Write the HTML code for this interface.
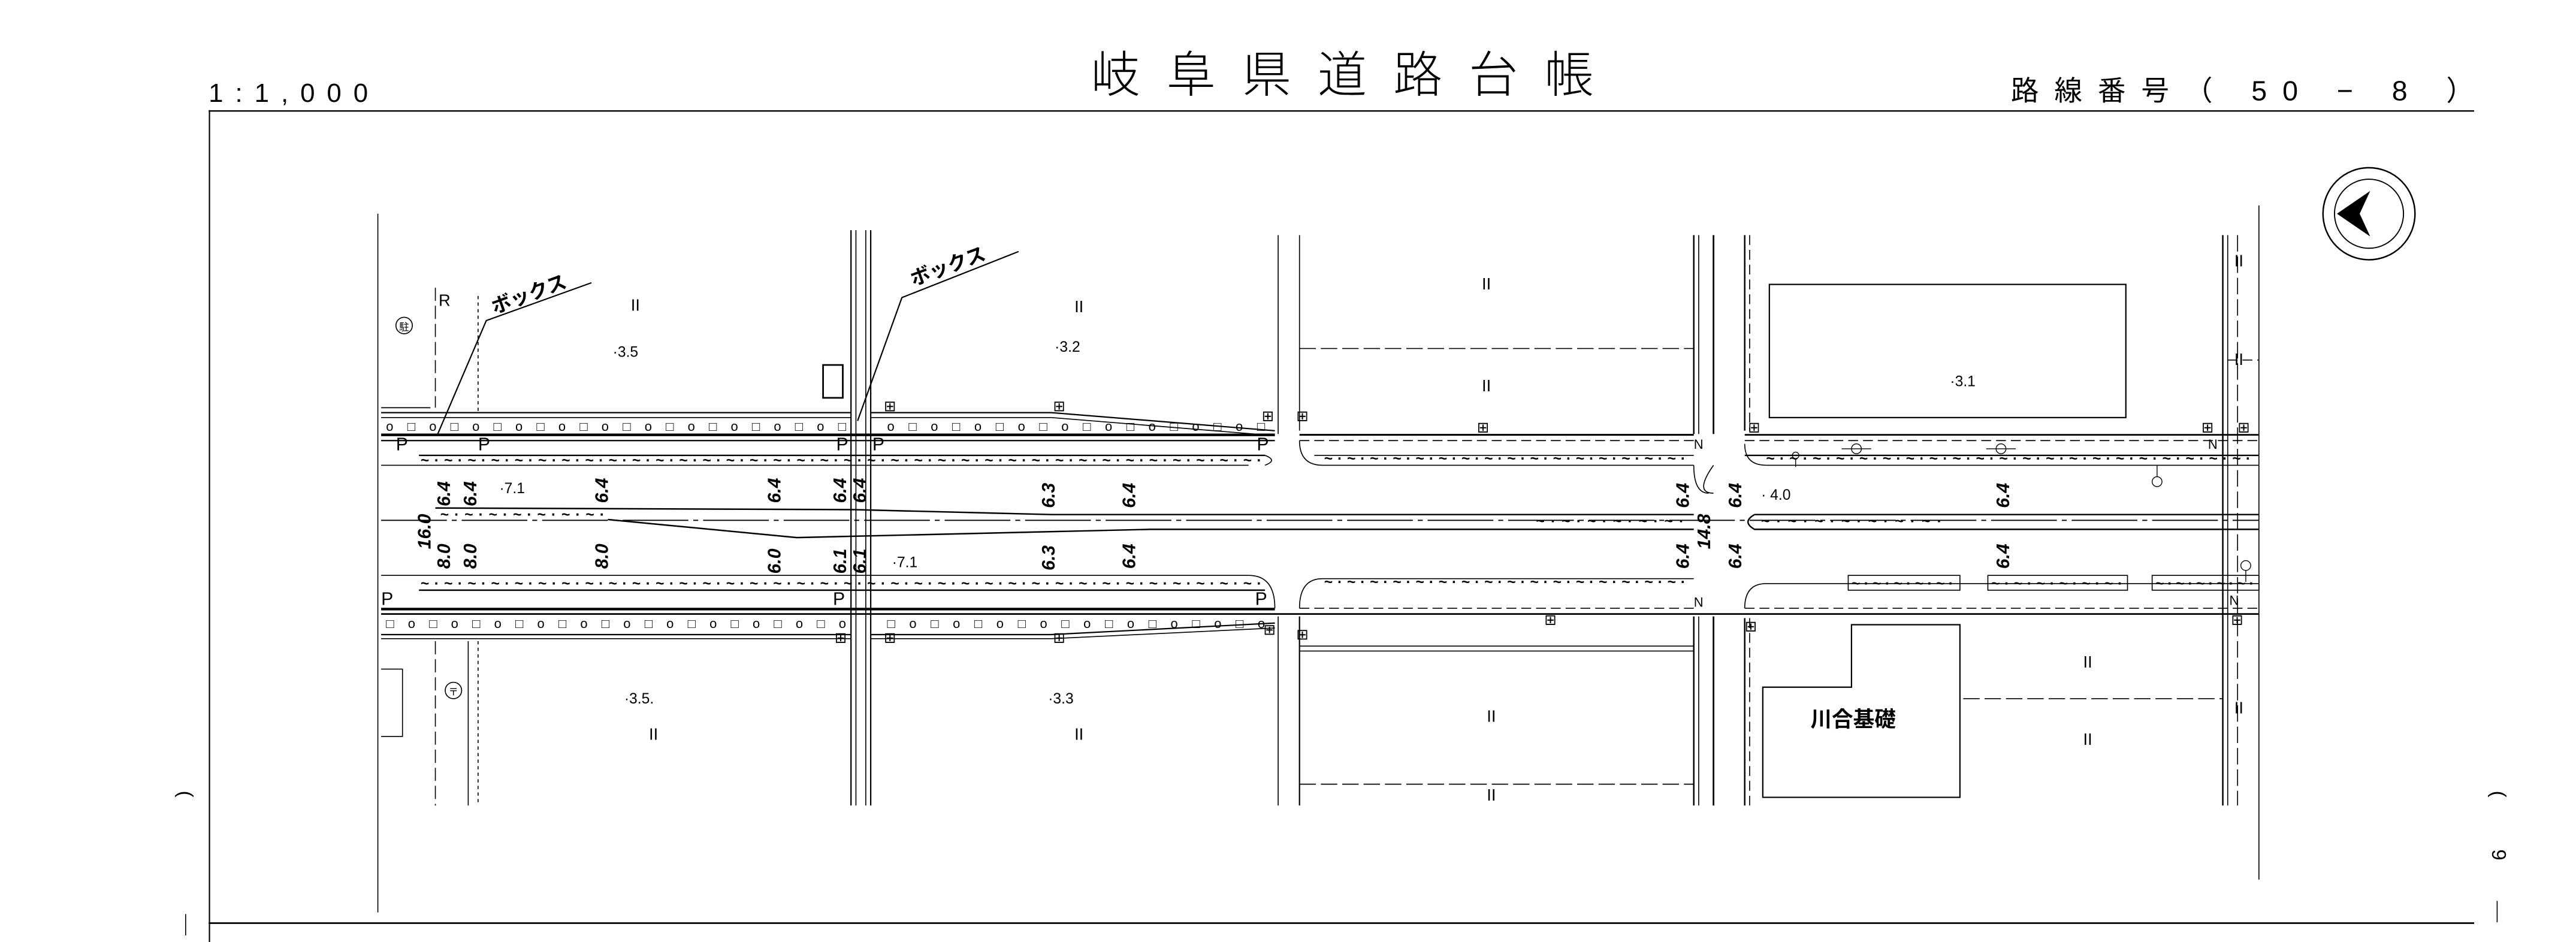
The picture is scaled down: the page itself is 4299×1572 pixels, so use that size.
<!DOCTYPE html>
<html><head><meta charset="utf-8"><style>
html,body{margin:0;padding:0;background:#fff;}
svg{display:block}
text{font-family:"Liberation Sans","Noto Sans CJK JP",sans-serif;fill:#000}
</style></head><body>
<svg width="4299" height="1572" viewBox="0 0 1568 573" preserveAspectRatio="none" xmlns="http://www.w3.org/2000/svg">
<rect width="1568" height="573" fill="#fff"/>
<text x="664" y="56" font-size="30" textLength="306" lengthAdjust="spacing" font-weight="300">岐阜県道路台帳</text>
<text x="127" y="62" font-size="16" textLength="97" lengthAdjust="spacing">1:1,000</text>
<text x="1224" y="61" font-size="17" textLength="282" lengthAdjust="spacing">路線番号（ 50 − 8 ）</text>
<g stroke="#000" fill="none">
<line x1="127" y1="67.5" x2="1506" y2="67.5" stroke-width="0.9"/>
<line x1="127.5" y1="67" x2="127.5" y2="573" stroke-width="0.8"/>
<line x1="127" y1="561.5" x2="1506" y2="561.5" stroke-width="1"/>
<line x1="113" y1="556" x2="113" y2="569" stroke-width="0.6"/>
<line x1="1520" y1="548" x2="1520" y2="561" stroke-width="0.6"/>
</g>
<text x="113" y="487" font-size="12" text-anchor="middle" transform="rotate(90 113 483)">(</text>
<text x="1521" y="487" font-size="12" text-anchor="middle" transform="rotate(90 1521 483)">(</text>
<text x="1521" y="524" font-size="12" text-anchor="middle" transform="rotate(90 1521 520)">9</text>

<g stroke="#000" fill="none" stroke-width="0.6">
<line x1="230" y1="130" x2="230" y2="555"/>
<line x1="1375" y1="125" x2="1375" y2="535"/>
<circle cx="1442" cy="130" r="28" stroke-width="0.9"/>
<circle cx="1442" cy="130" r="21" stroke-width="0.7"/>
<path d="M1423 130 L1442 117 L1436 130 L1442 143 Z" fill="#000"/>

<line x1="232" y1="251" x2="518" y2="251" stroke-width="0.8"/>
<line x1="232" y1="254" x2="518" y2="254"/>
<line x1="530" y1="251" x2="640" y2="251" stroke-width="0.8"/>
<line x1="530" y1="254" x2="640" y2="254"/>
<line x1="640" y1="251" x2="776" y2="262" stroke-width="0.8"/>
<line x1="640" y1="254" x2="776" y2="265"/>
<line x1="232" y1="264.5" x2="776" y2="264.5" stroke-width="1.6"/>
<line x1="791" y1="264.5" x2="1031" y2="264.5" stroke-width="1.1"/>
<line x1="1062" y1="264.5" x2="1375" y2="264.5" stroke-width="1"/>
<line x1="232" y1="268" x2="776" y2="268" stroke-width="0.8"/>
<line x1="791" y1="268" x2="1031" y2="268" stroke-dasharray="6 3"/>
<line x1="1062" y1="268" x2="1375" y2="268" stroke-dasharray="6 3"/>
<line x1="255" y1="277" x2="770" y2="277" stroke-width="0.9"/>
<line x1="232" y1="283" x2="760" y2="283"/>
<path d="M770 277 Q778 280 770 283"/>
<path d="M791 268 Q791 283 805 283 L1031 283"/>
<path d="M1062 270 Q1062 283 1075 283 L1375 283" />
<line x1="1062" y1="277" x2="1375" y2="277" stroke-width="0.9"/>
<line x1="800" y1="277" x2="1031" y2="277" stroke-width="0.6"/>
<path d="M265 309 L520 310 L640 313 L1031 313" stroke-width="0.9"/>
<line x1="232" y1="316.5" x2="1375" y2="316.5" stroke-dasharray="40 3 3 3" stroke-width="0.7"/>
<path d="M370 316 L485 327 L700 322 L1031 322" stroke-width="0.9"/>
<path d="M1068 313 L1375 313" stroke-width="0.9"/>
<path d="M1068 313 Q1060 317.5 1068 322 L1375 322" stroke-width="0.9"/>
<line x1="232" y1="350" x2="760" y2="350"/>
<path d="M760 350 Q776 350 776 370"/>
<path d="M791 370 Q791 352 805 352 L1031 352"/>
<path d="M1062 370 Q1062 355 1075 355 L1375 355"/>
<line x1="255" y1="359" x2="770" y2="359" stroke-width="0.9"/>
<line x1="232" y1="370.5" x2="776" y2="370.5" stroke-width="1.6"/>
<line x1="232" y1="373.5" x2="1375" y2="373.5" stroke-width="1"/>
<line x1="791" y1="370" x2="1031" y2="370" stroke-dasharray="6 3"/>
<line x1="1062" y1="370" x2="1375" y2="370" stroke-dasharray="6 3"/>
<line x1="232" y1="386" x2="518" y2="386" stroke-width="0.8"/>
<line x1="232" y1="388.5" x2="518" y2="388.5"/>
<path d="M530 386 L640 386 L776 379" stroke-width="0.8"/>
<path d="M530 388.5 L640 388.5 L776 382"/>
<rect x="1125" y="350" width="68" height="9"/>
<rect x="1210" y="350" width="85" height="9"/>
<rect x="1310" y="350" width="65" height="9"/>

<line x1="518" y1="140" x2="518" y2="490" stroke-width="0.8"/>
<line x1="521" y1="140" x2="521" y2="490"/>
<line x1="527" y1="140" x2="527" y2="490"/>
<line x1="530" y1="140" x2="530" y2="490" stroke-width="0.8"/>
<line x1="778" y1="143" x2="778" y2="264"/>
<line x1="791" y1="143" x2="791" y2="262"/>
<line x1="778" y1="375" x2="778" y2="490"/>
<line x1="791" y1="375" x2="791" y2="490" stroke-width="0.8"/>
<line x1="1031" y1="143" x2="1031" y2="264" stroke-width="0.9"/>
<line x1="1034" y1="143" x2="1034" y2="264"/>
<line x1="1043" y1="143" x2="1043" y2="264" stroke-width="1"/>
<line x1="1031" y1="375" x2="1031" y2="490" stroke-width="0.9"/>
<line x1="1034" y1="375" x2="1034" y2="490"/>
<line x1="1043" y1="375" x2="1043" y2="490" stroke-width="1"/>
<line x1="1062" y1="143" x2="1062" y2="262" stroke-width="0.9"/>
<line x1="1065" y1="143" x2="1065" y2="262" stroke-dasharray="6 3"/>
<line x1="1062" y1="376" x2="1062" y2="490" stroke-width="0.9"/>
<line x1="1065" y1="376" x2="1065" y2="490" stroke-dasharray="6 3"/>
<path d="M1031 283 Q1031 300 1040 300"/>
<path d="M1043 283 Q1031 300 1043 300"/>
<line x1="1353" y1="143" x2="1353" y2="490" stroke-width="0.9"/>
<line x1="1356" y1="143" x2="1356" y2="490"/>
<line x1="1362" y1="143" x2="1362" y2="490" stroke-dasharray="10 3"/>
<line x1="1356" y1="219" x2="1375" y2="219" stroke-dasharray="6 3"/>
<line x1="265" y1="175" x2="265" y2="248" stroke-dasharray="8 3"/>
<line x1="291" y1="180" x2="291" y2="250" stroke-dasharray="2 2"/>
<line x1="291" y1="390" x2="291" y2="490" stroke-dasharray="2 2"/>
<line x1="285" y1="390" x2="285" y2="490"/>
<line x1="265" y1="390" x2="265" y2="490" stroke-dasharray="8 3"/>
<path d="M232 248 L262 248"/>
<path d="M232 407 L245 407 L245 448 L232 448"/>
<rect x="501" y="222" width="12" height="20" stroke-width="1"/>
<path d="M266 265 L296 195 L360 172" stroke-width="0.8"/>
<path d="M522 256 L549 181 L620 153" stroke-width="0.8"/>
<line x1="791" y1="212" x2="1031" y2="212" stroke-dasharray="10 3"/>
<line x1="791" y1="393" x2="1031" y2="393"/>
<line x1="791" y1="396" x2="1031" y2="396"/>
<line x1="791" y1="477" x2="1031" y2="477" stroke-dasharray="10 3"/>
<line x1="1195" y1="425" x2="1353" y2="425" stroke-dasharray="10 3"/>
<rect x="1077" y="173" width="217" height="81" stroke-width="0.8"/>
<path d="M1073 485 L1193 485 L1193 380 L1127 380 L1127 418 L1073 418 Z" stroke-width="0.8"/>
<g stroke-width="0.5">
<circle cx="1130" cy="273" r="3"/><line x1="1121" y1="273" x2="1139" y2="273"/>
<circle cx="1218" cy="273" r="3"/><line x1="1209" y1="273" x2="1227" y2="273"/>
<circle cx="1313" cy="293" r="3"/><line x1="1313" y1="283" x2="1313" y2="290"/>
<circle cx="1367" cy="344" r="3"/><line x1="1367" y1="347" x2="1367" y2="354"/>
<circle cx="1093" cy="277" r="2"/><line x1="1093" y1="279" x2="1093" y2="284"/>
</g>
</g>
<g font-size="9" fill="#000" font-weight="bold">
<text x="256" y="283" textLength="512" lengthAdjust="spacing">~·~·~·~·~·~·~·~·~·~·~·~·~·~·~·~·~·~·~·~·~·~·~·~·~·~·~·~·~·~·~·~·~·~·~·~·</text>
<text x="806" y="282" textLength="220" lengthAdjust="spacing">~·~·~·~·~·~·~·~·~·~·~·~·~·~·~·~·</text>
<text x="1075" y="282" textLength="295" lengthAdjust="spacing">~·~·~·~·~·~·~·~·~·~·~·~·~·~·~·~·~·~·~·~·~·</text>
<text x="256" y="358" textLength="512" lengthAdjust="spacing">~·~·~·~·~·~·~·~·~·~·~·~·~·~·~·~·~·~·~·~·~·~·~·~·~·~·~·~·~·~·~·~·~·~·~·~·</text>
<text x="806" y="357" textLength="220" lengthAdjust="spacing">~·~·~·~·~·~·~·~·~·~·~·~·~·~·~·~·</text>
<text x="1127" y="358" textLength="62" lengthAdjust="spacing">~·~·~·~·~·</text>
<text x="1212" y="358" textLength="80" lengthAdjust="spacing">~·~·~·~·~·~·</text>
<text x="1312" y="358" textLength="60" lengthAdjust="spacing">~·~·~·~·~·</text>
<text x="268" y="316" textLength="100" lengthAdjust="spacing">~·~·~·~·~·~·~·</text>
<text x="935" y="320" textLength="90" lengthAdjust="spacing">~·~·~·~·~·~·</text>
<text x="1072" y="320" textLength="110" lengthAdjust="spacing">~·~·~·~·~·~·~·</text>
</g>
<g font-size="8" fill="#000">
<text x="235" y="262" textLength="280" lengthAdjust="spacing">o □ o □ o □ o □ o □ o □ o □ o □ o □ o □ o □</text>
<text x="540" y="262" textLength="230" lengthAdjust="spacing">o □ o □ o □ o □ o □ o □ o □ o □ o □</text>
<text x="235" y="382" textLength="280" lengthAdjust="spacing">□ o □ o □ o □ o □ o □ o □ o □ o □ o □ o □ o</text>
<text x="540" y="382" textLength="230" lengthAdjust="spacing">□ o □ o □ o □ o □ o □ o □ o □ o □ o</text>
</g>
<g font-size="11">
<text x="241" y="274">P</text><text x="291" y="274">P</text><text x="509" y="274">P</text><text x="531" y="274">P</text><text x="765" y="274">P</text>
<text x="232" y="368">P</text><text x="507" y="368">P</text><text x="764" y="368">P</text>
<text x="267" y="186" font-size="10">R</text>
</g>
<g font-size="8">
<text x="1031" y="273">N</text><text x="1344" y="273">N</text><text x="1031" y="369">N</text><text x="1357" y="368">N</text>
</g>
<text x="301" y="191" font-size="12" font-weight="bold" transform="rotate(-20 301 191)">ボックス</text>
<text x="556" y="174" font-size="12" font-weight="bold" transform="rotate(-20 556 174)">ボックス</text>
<g font-size="9">
<text x="373" y="217">·3.5</text><text x="642" y="214">·3.2</text><text x="1187" y="235">·3.1</text>
<text x="304" y="300">·7.1</text><text x="543" y="345">·7.1</text><text x="1072" y="304">· 4.0</text>
<text x="380" y="428">·3.5.</text><text x="638" y="428">·3.3</text>
</g>
<g font-size="10">
<text x="384" y="189">II</text><text x="654" y="190">II</text><text x="902" y="176">II</text><text x="902" y="238">II</text>
<text x="1360" y="162">II</text><text x="1360" y="222">II</text><text x="1360" y="434">II</text>
<text x="395" y="450">II</text><text x="654" y="450">II</text><text x="905" y="439">II</text><text x="905" y="487">II</text>
<text x="1268" y="406">II</text><text x="1268" y="453">II</text>
</g>
<text x="1102" y="442" font-size="13" font-weight="bold">川合基礎</text>
<circle cx="246" cy="198" r="5" fill="none" stroke="#000" stroke-width="0.6"/>
<text x="246" y="201" font-size="6" text-anchor="middle">駐</text>
<circle cx="276" cy="420" r="5" fill="none" stroke="#000" stroke-width="0.6"/>
<text x="276" y="423" font-size="6" text-anchor="middle">〒</text>
<g font-size="11" font-style="italic" font-weight="bold">
<text transform="translate(274,308) rotate(-90)">6.4</text>
<text transform="translate(290,308) rotate(-90)">6.4</text>
<text transform="translate(370,306) rotate(-90)">6.4</text>
<text transform="translate(475,306) rotate(-90)">6.4</text>
<text transform="translate(515,306) rotate(-90)">6.4</text>
<text transform="translate(527,306) rotate(-90)">6.4</text>
<text transform="translate(642,309) rotate(-90)">6.3</text>
<text transform="translate(691,309) rotate(-90)">6.4</text>
<text transform="translate(262,334) rotate(-90)">16.0</text>
<text transform="translate(274,346) rotate(-90)">8.0</text>
<text transform="translate(290,346) rotate(-90)">8.0</text>
<text transform="translate(370,346) rotate(-90)">8.0</text>
<text transform="translate(475,349) rotate(-90)">6.0</text>
<text transform="translate(515,349) rotate(-90)">6.1</text>
<text transform="translate(527,349) rotate(-90)">6.1</text>
<text transform="translate(642,347) rotate(-90)">6.3</text>
<text transform="translate(691,346) rotate(-90)">6.4</text>
<text transform="translate(1028,309) rotate(-90)">6.4</text>
<text transform="translate(1028,346) rotate(-90)">6.4</text>
<text transform="translate(1041,334) rotate(-90)">14.8</text>
<text transform="translate(1060,309) rotate(-90)">6.4</text>
<text transform="translate(1060,346) rotate(-90)">6.4</text>
<text transform="translate(1223,309) rotate(-90)">6.4</text>
<text transform="translate(1223,346) rotate(-90)">6.4</text>
</g>
<g font-size="9">
<text x="538" y="250">⊞</text><text x="641" y="250">⊞</text><text x="768" y="256">⊞</text><text x="789" y="256">⊞</text>
<text x="899" y="263">⊞</text><text x="1064" y="263">⊞</text><text x="1340" y="263">⊞</text><text x="1362" y="263">⊞</text>
<text x="508" y="391">⊞</text><text x="538" y="391">⊞</text><text x="641" y="391">⊞</text><text x="769" y="386">⊞</text><text x="789" y="389">⊞</text>
<text x="940" y="380">⊞</text><text x="1062" y="384">⊞</text><text x="1358" y="380">⊞</text>
</g>
</svg>
</body></html>
